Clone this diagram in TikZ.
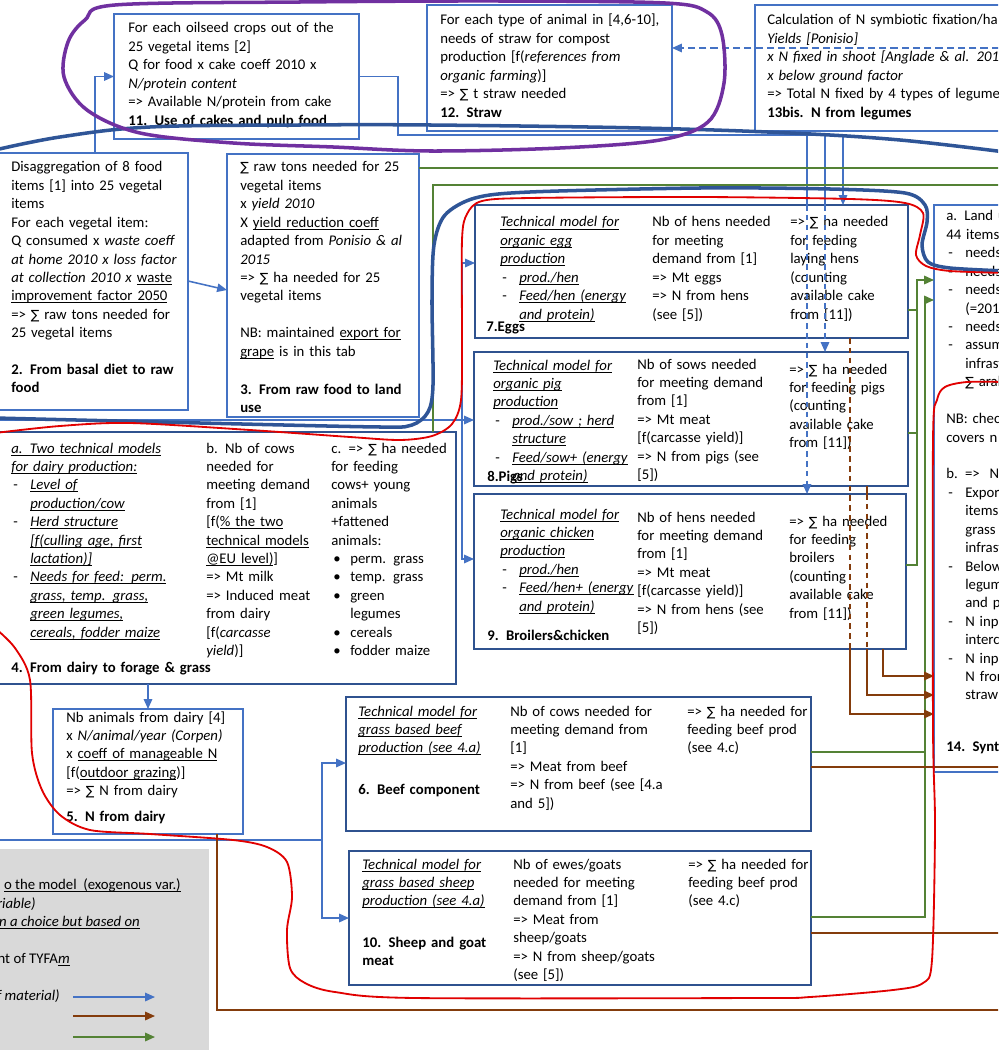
\documentclass[tikz,border=0pt]{standalone}
\usepackage{fontspec}
\setmainfont{Carlito}
\newfontfamily\sumfont{DejaVu Sans}
\usepackage{tikz}
\usetikzlibrary{arrows.meta,fit,calc}
\definecolor{boxblue}{RGB}{68,114,196}
\definecolor{boxdark}{RGB}{47,82,143}
\definecolor{flowblue}{RGB}{68,114,196}
\definecolor{flowgreen}{RGB}{84,130,53}
\definecolor{flowbrown}{RGB}{132,60,12}
\definecolor{curveblue}{RGB}{47,85,151}
\definecolor{loopred}{RGB}{225,0,0}
\definecolor{looppurple}{RGB}{112,48,160}
\definecolor{legendgray}{RGB}{217,217,217}
\newcommand{\nfont}{\fontsize{10.5pt}{13.1pt}\selectfont}
\newcommand{\sumsym}{{\sumfont\fontsize{9pt}{13.1pt}\selectfont ∑}}
\newcommand{\uline}[1]{\leavevmode\setbox0\hbox{#1}\rlap{\rule[-1.8pt]{\wd0}{0.7pt}}\box0\relax}
\newcommand{\itul}[1]{\uline{\textit{#1}}}
\newcommand{\ind}{\leavevmode\hspace*{0.475cm}}
\newcommand{\itemdash}{\makebox[0.475cm][l]{\hspace{0.05cm}-}}
\newcommand{\bul}{\makebox[0.475cm][l]{\hspace{0.05cm}\textbullet}}

\begin{document}
\begin{tikzpicture}[
    x=0.025cm, y=-0.025cm,
    >={Triangle[length=7pt,width=6pt]},
    box/.style={draw=boxblue, line width=1.2pt, inner sep=0pt, outer sep=0pt},
    dbox/.style={box, draw=boxdark},
    txt/.style={anchor=base west, inner sep=0pt, text width=7cm, align=left, font=\nfont},
    ttl/.style={txt, font=\nfont\bfseries},
    lgd/.style={anchor=base east, inner sep=0pt, font=\nfont},
    bline/.style={draw=flowblue, line width=1.1pt},
    flow/.style={bline, ->},
    gline/.style={draw=flowgreen, line width=1.2pt},
    gflow/.style={gline, ->},
    rline/.style={draw=flowbrown, line width=1.2pt},
    rflow/.style={rline, ->},
    dsh/.style={dash pattern=on 4pt off 3pt}
]
  \useasboundingbox (0,0) rectangle (998,1050);
  \clip (0,0) rectangle (998,1050);
  \fill[white] (0,0) rectangle (998,1050);
  \fill[legendgray] (-5,849) rectangle (209,1055);

  % boxes
  \node[box, fit={(114,14) (359,139)}] (b11) {};
  \node[box, fit={(427,5) (672,131)}] (b12) {};
  \node[box, fit={(755,5) (1010,131)}] (b13) {};
  \node[box, fit={(-5,153) (188,410)}] (b2) {};
  \node[box, fit={(227,154) (419,417)}] (b3) {};
  \node[dbox, fit={(-5,432) (456,684)}] (b4) {};
  \node[box, fit={(53,709) (243,834)}] (b5) {};
  \node[dbox, fit={(346,697) (811,831)}] (b6) {};
  \node[dbox, fit={(475,205) (908,338)}] (b7) {};
  \node[dbox, fit={(474,352) (908,486)}] (b8) {};
  \node[dbox, fit={(474,494) (906,649)}] (b9) {};
  \node[dbox, fit={(349,851) (811,985)}] (b10) {};
  \node[box, fit={(934,205) (1010,772)}] (b14) {};

  % texts
  \node[txt] (t11) at (128,33) {For each oilseed crops out of the\\25 vegetal items [2]\\Q for food x cake coeff 2010 x\\\textit{N/protein content}\\=> Available N/protein from cake};
  \node[ttl] (t11t) at (128,126) {11. Use of cakes and pulp food};

  \node[txt] (t12) at (440,25) {For each type of animal in [4,6-10],\\needs of straw for compost\\production [f(\textit{references from}\\\textit{organic farming})]\\=> \sumsym{} t straw needed};
  \node[ttl] (t12t) at (440,118) {12. Straw};

  \node[txt] (t13) at (767,25) {Calculation of N symbiotic fixation/ha\\\textit{Yields [Ponisio]}\\\textit{x N fixed in shoot [Anglade \& al. 2015]}\\\textit{x below ground factor}\\=> Total N fixed by 4 types of legumes};
  \node[ttl] (t13t) at (767,118) {13bis. N from legumes};

  \node[txt] (t2) at (11,172) {Disaggregation of 8 food\\items [1] into 25 vegetal\\items\\For each vegetal item:\\Q consumed x \textit{waste coeff}\\\textit{at home 2010 x loss factor}\\\textit{at collection 2010 x} \uline{waste}\\\uline{improvement factor 2050}\\=> \sumsym{} raw tons needed for\\25 vegetal items};
  \node[ttl] (t2t) at (11,374) {2. From basal diet to raw\\food};

  \node[txt] (t3) at (240,172) {\sumsym{} raw tons needed for 25\\vegetal items\\x \textit{yield 2010}\\X \uline{yield reduction coeff}\\adapted from \textit{Ponisio \& al}\\\textit{2015}\\=> \sumsym{} ha needed for 25\\vegetal items\\[13.1pt]NB: maintained \uline{export for}\\\uline{grape} is in this tab};
  \node[ttl] (t3t) at (240,394) {3. From raw food to land\\use};

  \node[txt] (t4a) at (11,453) {\itul{a. Two technical models}\\\itul{for dairy production:}\\\itemdash\itul{Level of}\\\ind\itul{production/cow}\\\itemdash\itul{Herd structure}\\\ind\itul{[f(culling age, first}\\\ind\itul{lactation)]}\\\itemdash\itul{Needs for feed: perm.}\\\ind\itul{grass, temp. grass,}\\\ind\itul{green legumes,}\\\ind\itul{cereals, fodder maize}};
  \node[txt] (t4b) at (206,453) {b. Nb of cows\\needed for\\meeting demand\\from [1]\\{}[f(\uline{\% the two}\\\uline{technical models}\\\uline{@EU level)}]\\=> Mt milk\\=> Induced meat\\from dairy\\{}[f(\textit{carcasse}\\\textit{yield})]};
  \node[txt] (t4c) at (331,453) {c. => \sumsym{} ha needed\\for feeding\\cows+ young\\animals\\+fattened\\animals:\\\bul perm. grass\\\bul temp. grass\\\bul green\\\ind legumes\\\bul cereals\\\bul fodder maize};
  \node[ttl] (t4t) at (11,672) {4. From dairy to forage \& grass};

  \node[txt] (t5) at (66,722) {Nb animals from dairy [4]\\x \textit{N/animal/year (Corpen)}\\x \uline{coeff of manageable N}\\{}[f(\uline{outdoor grazing})]\\=> \sumsym{} N from dairy};
  \node[ttl] (t5t) at (66,821) {5. N from dairy};

  \node[txt] (t6a) at (358,716) {\itul{Technical model for}\\\itul{grass based beef}\\\itul{production (see 4.a)}};
  \node[ttl] (t6t) at (358,794) {6. Beef component};
  \node[txt] (t6b) at (510,716) {Nb of cows needed for\\meeting demand from\\{}[1]\\=> Meat from beef\\=> N from beef (see [4.a\\and 5])};
  \node[txt] (t6c) at (687,716) {=> \sumsym{} ha needed for\\feeding beef prod\\(see 4.c)};

  \node[txt] (t10a) at (362,869) {\itul{Technical model for}\\\itul{grass based sheep}\\\itul{production (see 4.a)}};
  \node[ttl] (t10t) at (362,947) {10. Sheep and goat\\meat};
  \node[txt] (t10b) at (513,869) {Nb of ewes/goats\\needed for meeting\\demand from [1]\\=> Meat from\\sheep/goats\\=> N from sheep/goats\\(see [5])};
  \node[txt] (t10c) at (688,869) {=> \sumsym{} ha needed for\\feeding beef prod\\(see 4.c)};

  \node[txt] (t7a) at (500,227) {\itul{Technical model for}\\\itul{organic egg}\\\itul{production}\\\itemdash\itul{prod./hen}\\\itemdash\itul{Feed/hen (energy}\\\ind\itul{and protein)}};
  \node[ttl] (t7t) at (486,331) {7.Eggs};
  \node[txt] (t7b) at (652,227) {Nb of hens needed\\for meeting\\demand from [1]\\=> Mt eggs\\=> N from hens\\(see [5])};
  \node[txt] (t7c) at (790,227) {=> \sumsym{} ha needed\\for feeding\\laying hens\\(counting\\available cake\\from [11])};

  \node[txt] (t8a) at (493,370) {\itul{Technical model for}\\\itul{organic pig}\\\itul{production}\\\itemdash\itul{prod./sow ; herd}\\\ind\itul{structure}\\\itemdash\itul{Feed/sow+ (energy}\\\ind\itul{and protein)}};
  \node[ttl] (t8t) at (487,481) {8.Pigs};
  \node[txt] (t8b) at (637,369) {Nb of sows needed\\for meeting demand\\from [1]\\=> Mt meat\\{}[f(carcasse yield)]\\=> N from pigs (see\\{}[5])};
  \node[txt] (t8c) at (789,374) {=> \sumsym{} ha needed\\for feeding pigs\\(counting\\available cake\\from [11])};

  \node[txt] (t9a) at (500,519) {\itul{Technical model for}\\\itul{organic chicken}\\\itul{production}\\\itemdash\itul{prod./hen}\\\itemdash\itul{Feed/hen+ (energy}\\\ind\itul{and protein)}};
  \node[ttl] (t9t) at (487,640) {9. Broilers\&chicken};
  \node[txt] (t9b) at (637,522) {Nb of hens needed\\for meeting demand\\from [1]\\=> Mt meat\\{}[f(carcasse yield)]\\=> N from hens (see\\{}[5])};
  \node[txt] (t9c) at (789,526) {=> \sumsym{} ha needed\\for feeding\\broilers\\(counting\\available cake\\from [11])};

  \node[txt] (t14) at (946,221) {a. Land use\\44 items\\\itemdash needs\\\itemdash needs\\\itemdash needs\\\ind(=2010\\\itemdash needs\\\itemdash assumption\\\ind infrastructure\\\ind\sumsym{} arable\\[13.1pt]NB: check\\covers n\\[13.1pt]b. =>\ \ N\\\itemdash Exports\\\ind items\\\ind grass\\\ind infrastructure\\\itemdash Below\\\ind legumes\\\ind and p\\\itemdash N input\\\ind intercrop\\\itemdash N input\\\ind N from\\\ind straw};
  \node[ttl] (t14t) at (946,751) {14. Synthesis};

  % legend
  \node[lgd] (lg1) at (181,889) {\uline{o the model\ \ (exogenous var.)}};
  \node[lgd] (lg2) at (36,908) {\textit{riable)}};
  \node[lgd] (lg3) at (140,926) {\uline{\textit{n a choice but based on}}};
  \node[lgd] (lg4) at (70,963) {nt of TYFA\uline{\textit{m}}};
  \node[lgd] (lg5) at (60,1000) {\textit{f material)}};
  \coordinate (lgB) at (73,997);
  \coordinate (lgR) at (73,1016);
  \coordinate (lgG) at (73,1037);
  \draw[flow] (lgB) -- ++(82,0);
  \draw[rflow] (lgR) -- ++(82,0);
  \draw[gflow] (lgG) -- ++(82,0);

  % blue edges
  \draw[flow] (b2.north -| 95,0) |- (b11.west);
  \draw[flow] (b2.east |- 0,281) -- (b3.west |- 0,290);
  \coordinate (jC) at (398,135);
  \draw[bline] (b11.east) -| (jC) -- (843,135);
  \draw[flow] (843,135) -- (b7.north -| 843,0);
  \draw[bline] (825,135) -- (b7.north -| 825,0);
  \draw[flow, dsh] (b7.north -| 825,0) -- (b8.north -| 825,0);
  \draw[bline] (807,135) -- (b7.north -| 807,0);
  \draw[flow, dsh] (b7.north -| 807,0) -- (b9.north -| 807,0);
  \draw[flow, dash pattern=on 5pt off 3pt] (b13.east |- 0,48) -- (b12.east |- 0,48);
  \coordinate (feedL) at (-5,420);
  \coordinate (jA) at (462,420);
  \draw[flow] (feedL) -- (b8.west |- 0,420);
  \draw[flow] (jA) |- (b7.west |- 0,263);
  \draw[flow] (jA) |- (b9.west |- 0,559);
  \draw[flow] (b4.south -| 148,0) -- (b5.north -| 148,0);
  \coordinate (feedL2) at (-5,840);
  \coordinate (jB) at (322,840);
  \draw[bline] (feedL2) -- (jB);
  \draw[flow] (jB) |- (b6.west |- 0,763);
  \draw[flow] (jB) |- (b10.west |- 0,918);

  % green edges
  \draw[gline] (b3.east |- 0,168) -- (b14.east |- 0,168);
  \draw[gline] (b4.north -| 433,0) |- (b14.east |- 0,185);
  \draw[gflow] (b9.east |- 0,565) -| (917,280) -- (b14.west |- 0,280);
  \draw[gline] (b7.east |- 0,310) -- (917,310);
  \draw[gline] (b8.east |- 0,433) -- (917,433);
  \draw[gflow] (b10.east |- 0,917) -| (925,300) -- (b14.west |- 0,300);
  \draw[gline] (b6.east |- 0,752) -- (925,752);

  % brown edges
  \draw[rflow] (b9.south -| 883,0) |- (b14.west |- 0,676);
  \draw[rline] (b8.south -| 867,0) -- (b9.north -| 867,0);
  \draw[rline, dsh] (b9.north -| 867,0) -- (b9.south -| 867,0);
  \draw[rflow] (b9.south -| 867,0) |- (b14.west |- 0,695);
  \draw[rline, dsh] (b7.south -| 850,0) -- (b9.south -| 850,0);
  \draw[rflow] (b9.south -| 850,0) |- (b14.west |- 0,714);
  \draw[rline] (b6.east |- 0,767) -- (b14.east |- 0,767);
  \draw[rline] (b10.east |- 0,933) -- (b14.east |- 0,933);
  \draw[rline] (b5.south -| 217,0) |- (b14.east |- 0,1010);

  % hand drawn loops
  \draw[curveblue, line width=2.5pt] plot[smooth, tension=0.6] coordinates {(-5,150) (60,137) (150,127) (300,125) (430,125) (640,128) (790,133) (900,140) (1005,152)};
  \draw[curveblue, line width=2.5pt] plot[smooth, tension=0.5] coordinates {(-5,418) (200,423) (380,427) (412,425) (428,412) (433,385) (432,300) (434,245) (445,215) (475,198) (530,192) (700,188) (830,189) (905,193) (925,205) (927,222) (922,245) (928,262) (950,268) (1005,271)};
  \draw[loopred, line width=1.3pt] plot[smooth, tension=0.5] coordinates {(-5,433) (60,426) (130,423) (250,430) (350,437) (400,440) (432,436) (452,424) (461,400) (462,340) (462,240) (467,214) (482,201) (530,198) (700,197) (850,199) (905,203) (923,213) (920,235) (916,255) (926,266) (950,271) (1005,273)};
  \draw[loopred, line width=1.3pt] plot[smooth, tension=0.5] coordinates {(1005,382) (967,382) (945,387) (937,400) (933,440) (933,727) (935,827) (932,960) (923,983) (893,990) (810,997) (760,998) (415,998) (335,992) (305,983) (290,968) (287,930) (292,897) (287,862) (267,847) (233,840) (150,834) (90,830) (60,815) (42,790) (32,753) (30,680) (15,648) (-5,628)};
  \draw[looppurple, line width=2.5pt] plot[smooth cycle, tension=0.55] coordinates {(115,5) (300,2) (500,1) (665,3) (707,12) (722,35) (724,83) (708,122) (660,140) (560,148) (430,151) (333,147) (233,143) (140,133) (87,110) (64,77) (68,42) (85,20)};
\end{tikzpicture}
\end{document}
